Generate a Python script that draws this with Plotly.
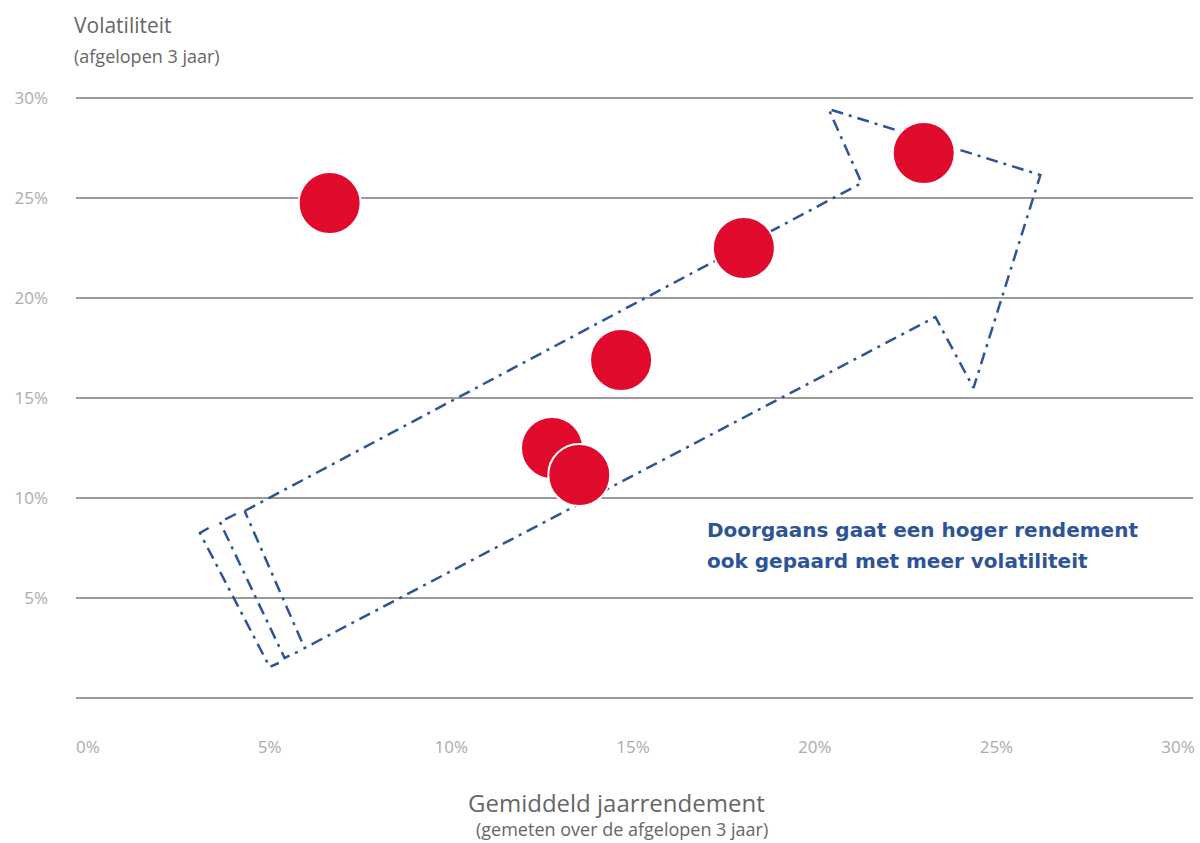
import plotly.graph_objects as go

# ---- data (percent) ----
rendement = [6.65, 23.0, 18.05, 14.67, 12.77, 13.52]     # x: gemiddeld jaarrendement
volatiliteit = [24.75, 27.25, 22.5, 16.9, 12.5, 11.15]   # y: volatiliteit

tick_vals = [0, 5, 10, 15, 20, 25, 30]
x_tick_text = ["0%", "5%", "10%", "15%", "20%", "25%", "30%"]
y_tick_text = ["", "5%", "10%", "15%", "20%", "25%", "30%"]

# arrow outline (data units, %)
arrow_x = [4.31, 21.29, 20.38, 26.21, 24.37, 23.32, 5.96, 4.31]
arrow_y = [9.35, 25.75, 29.45, 26.15, 15.5, 19.05, 2.5, 9.35]
# tail "motion" strokes
tail1_x = [4.07, 3.63, 5.41, 5.82]
tail1_y = [9.2, 8.8, 2.0, 2.35]
tail2_x = [3.32, 3.08, 5.0, 5.25]
tail2_y = [8.5, 8.25, 1.55, 1.75]

BLUE = "#2d5496"
RED = "#df0a2c"
GREY_TXT = "#666666"
GREY_TICK = "#ababab"

fig = go.Figure()

dash = "12px,6px,3px,6px"
for xs, ys in [(arrow_x, arrow_y), (tail1_x, tail1_y), (tail2_x, tail2_y)]:
    fig.add_trace(go.Scatter(x=xs, y=ys, mode="lines",
                             line=dict(color=BLUE, width=2.5, dash=dash),
                             hoverinfo="skip", showlegend=False))

fig.add_trace(go.Scatter(
    x=rendement, y=volatiliteit, mode="markers",
    marker=dict(size=62, color=RED, line=dict(color="white", width=2), opacity=1),
    showlegend=False, cliponaxis=False,
))

fig.update_layout(
    width=1200, height=843,
    margin=dict(l=76, r=5, t=88, b=135),
    paper_bgcolor="white", plot_bgcolor="white",
    font=dict(family="Open Sans", color=GREY_TXT),
    xaxis=dict(range=[-0.33, 30.41], tickvals=tick_vals, ticktext=x_tick_text,
               showgrid=False, zeroline=False, showline=False,
               tickfont=dict(size=17, color=GREY_TICK), ticklabelstandoff=27),
    yaxis=dict(range=[-0.5, 30.5], tickvals=tick_vals, ticktext=y_tick_text,
               showgrid=True, gridcolor="#9a9a9a", gridwidth=2,
               zeroline=False, showline=False,
               tickfont=dict(size=17, color=GREY_TICK), ticklabelstandoff=27),
    annotations=[
        dict(text="Volatiliteit", xref="paper", yref="paper", x=-0.0036, y=1.1016,
             xanchor="left", yanchor="middle", showarrow=False,
             font=dict(size=21, color=GREY_TXT, family="Open Sans")),
        dict(text="(afgelopen 3 jaar)", xref="paper", yref="paper", x=-0.0036, y=1.0516,
             xanchor="left", yanchor="middle", showarrow=False,
             font=dict(size=18, color=GREY_TXT, family="Open Sans")),
        dict(text="Gemiddeld jaarrendement", xref="paper", yref="paper", x=0.4835, y=-0.153,
             xanchor="center", yanchor="middle", showarrow=False,
             font=dict(size=24, color=GREY_TXT, family="Open Sans")),
        dict(text="(gemeten over de afgelopen 3 jaar)", xref="paper", yref="paper", x=0.489, y=-0.195,
             xanchor="center", yanchor="middle", showarrow=False,
             font=dict(size=18, color=GREY_TXT, family="Open Sans")),
        dict(text="<b>Doorgaans gaat een hoger rendement</b>", xref="x", yref="y",
             x=16.98, y=8.4, xanchor="left", yanchor="middle", showarrow=False,
             font=dict(size=20, color=BLUE, family="DejaVu Sans")),
        dict(text="<b>ook gepaard met meer volatiliteit</b>", xref="x", yref="y",
             x=16.98, y=6.85, xanchor="left", yanchor="middle", showarrow=False,
             font=dict(size=20, color=BLUE, family="DejaVu Sans")),
    ],
)

fig.write_html("out.html")
